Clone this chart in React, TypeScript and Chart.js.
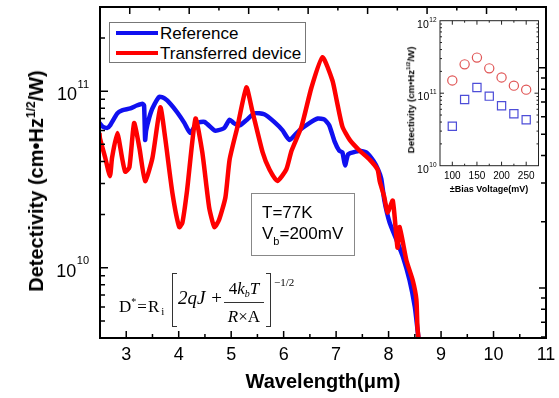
import React, { useEffect, useRef } from "react";
import { Chart, registerables } from "chart.js";

Chart.register(...registerables);

const SANS = "'Liberation Sans', Arial, Helvetica, sans-serif";
const SERIF = "'Liberation Serif', 'Times New Roman', serif";

// ---------- Main chart data ----------
const refWavelength = [
  2.49, 2.55, 2.64, 2.69, 2.83, 2.92, 3.08, 3.2, 3.31, 3.34, 3.36, 3.38, 3.44, 3.5, 3.63, 3.73,
  3.84, 3.97, 4.11, 4.22, 4.35, 4.49, 4.68, 4.74, 4.87, 4.97, 5.05, 5.16, 5.3, 5.44, 5.63, 5.82,
  5.98, 6.11, 6.3, 6.49, 6.65, 6.78, 6.87, 6.97, 7.06, 7.12, 7.17, 7.23, 7.32, 7.45, 7.58, 7.72,
  7.8, 7.86, 7.92, 8.02, 8.15, 8.27, 8.4, 8.5, 8.55, 8.59,
];
const refDetectivity = [
  6.6e10, 6.3e10, 6.2e10, 6.4e10, 7.5e10, 7.8e10, 8.0e10, 8.3e10, 8.5e10, 8.3e10, 5.3e10, 6.0e10, 7.1e10, 8.0e10, 9.3e10, 9.1e10,
  8.5e10, 7.6e10, 6.6e10, 5.8e10, 6.6e10, 6.7e10, 6.0e10, 6.0e10, 6.2e10, 6.9e10, 6.6e10, 6.4e10, 6.9e10, 7.5e10, 7.4e10, 6.7e10,
  6.0e10, 5.3e10, 6.0e10, 6.6e10, 7.0e10, 6.9e10, 6.4e10, 5.2e10, 4.6e10, 4.5e10, 3.8e10, 4.4e10, 4.5e10, 4.6e10, 4.5e10, 4.0e10,
  3.6e10, 3.2e10, 2.4e10, 1.8e10, 1.44e10, 1.16e10, 8.5e9, 6.0e9, 4.5e9, 3.5e9,
];

const trWavelength = [
  2.49, 2.5, 2.6, 2.69, 2.73, 2.83, 2.92, 2.98, 3.06, 3.15, 3.25, 3.36, 3.5, 3.65, 3.74, 3.88,
  4.01, 4.07, 4.16, 4.32, 4.45, 4.58, 4.68, 4.77, 4.89, 4.97, 5.12, 5.29, 5.4, 5.6, 5.73, 5.88,
  6.05, 6.15, 6.34, 6.53, 6.74, 6.93, 7.01, 7.12, 7.26, 7.45, 7.64, 7.79, 7.83, 7.92, 7.98, 8.08,
  8.17, 8.21, 8.34, 8.46, 8.53, 8.55, 8.59,
];
const trDetectivity = [
  5.8e10, 5.4e10, 4.2e10, 3.3e10, 4.2e10, 5.8e10, 4.2e10, 3.5e10, 3.7e10, 6.6e10, 4.8e10, 3.1e10, 4.2e10, 8.1e10, 5.5e10, 2.65e10,
  1.7e10, 1.8e10, 2.75e10, 7.0e10, 4.5e10, 2.2e10, 1.7e10, 1.87e10, 2.5e10, 4.1e10, 6.3e10, 1.05e11, 7.8e10, 4.5e10, 3.6e10, 3.1e10,
  3.6e10, 4.6e10, 6.3e10, 1.05e11, 1.56e11, 1.15e11, 8.9e10, 6.3e10, 5.3e10, 4.6e10, 4.1e10, 3.6e10, 3.1e10, 2.5e10, 2.05e10, 2.4e10,
  1.3e10, 1.7e10, 1.1e10, 8.5e9, 6.6e9, 4.6e9, 3.5e9,
];

const xTickValues = [3, 4, 5, 6, 7, 8, 9, 10, 11];
const yLabelExponents = [10, 11];

// ---------- Inset data ----------
const biasVoltage = [100, 125, 150, 175, 200, 225, 250];
const insetTransferred = [1.5e11, 2.5e11, 3.1e11, 2.2e11, 1.65e11, 1.27e11, 1.12e11];
const insetReference = [3.5e10, 8.2e10, 1.2e11, 9.1e10, 6.7e10, 5.2e10, 4.3e10];
const insetXTicks = [100, 150, 200, 250];
const insetYExponents = [10, 11, 12];

function logTicks(scale: any) {
  const out: { v: number; major: boolean }[] = [];
  const min = scale.min, max = scale.max;
  const n0 = Math.floor(Math.log10(min)), n1 = Math.ceil(Math.log10(max));
  for (let n = n0; n <= n1; n++) {
    for (let k = 1; k <= 9; k++) {
      const v = k * Math.pow(10, n);
      if (v > min * 1.002 && v < max * 0.998) out.push({ v, major: k === 1 });
    }
  }
  return out;
}

function drawPow(ctx: any, exp: number, right: number, py: number, big: number, small: number, dyBase: number, dySup: number) {
  ctx.font = `${big}px ${SANS}`;
  const w1 = ctx.measureText("10").width;
  ctx.font = `${small}px ${SANS}`;
  const s = String(exp);
  const w2 = ctx.measureText(s).width;
  const x0 = right - w2 - w1 - 0.5;
  ctx.textAlign = "left";
  ctx.textBaseline = "alphabetic";
  ctx.font = `${big}px ${SANS}`;
  ctx.fillText("10", x0, py + dyBase);
  ctx.font = `${small}px ${SANS}`;
  ctx.fillText(s, x0 + w1 + 0.5, py + dySup);
}

const mainFrame = {
  id: "mainFrame",
  afterDatasetsDraw(chart: any) {
    const { ctx, chartArea: a, scales } = chart;
    const { x, x2, y, y2 } = scales;
    ctx.save();
    ctx.strokeStyle = "#000";
    ctx.lineWidth = 1.5;
    ctx.beginPath();
    for (let v = 3; v <= 11.001; v += 0.5) {
      const px = x.getPixelForValue(v);
      const len = Math.abs(v - Math.round(v)) < 1e-6 ? 7 : 4;
      ctx.moveTo(px, a.bottom);
      ctx.lineTo(px, a.bottom - len);
    }
    for (let v = 3; v <= 10.001; v += 0.5) {
      const px = x2.getPixelForValue(v);
      const len = Math.abs(v - Math.round(v)) < 1e-6 ? 7 : 3.5;
      ctx.moveTo(px, a.top);
      ctx.lineTo(px, a.top + len);
    }
    logTicks(y).forEach(({ v, major }) => {
      const py = y.getPixelForValue(v);
      ctx.moveTo(a.left, py);
      ctx.lineTo(a.left + (major ? 8 : 5), py);
    });
    logTicks(y2).forEach(({ v, major }) => {
      const py = y2.getPixelForValue(v);
      ctx.moveTo(a.right, py);
      ctx.lineTo(a.right - (major ? 7 : 5), py);
    });
    ctx.stroke();
    ctx.lineWidth = 2;
    ctx.strokeRect(a.left, a.top, a.right - a.left, a.bottom - a.top);
    ctx.fillStyle = "#000";
    yLabelExponents.forEach((e) => {
      const py = y.getPixelForValue(Math.pow(10, e));
      drawPow(ctx, e, a.left - 11, py, 18, 11, 9, -3.5);
    });
    ctx.restore();
  },
};

const insetFrame = {
  id: "insetFrame",
  afterDatasetsDraw(chart: any) {
    const { ctx, chartArea: a, scales } = chart;
    const { x, y } = scales;
    ctx.save();
    ctx.strokeStyle = "#222";
    ctx.lineWidth = 1;
    ctx.beginPath();
    for (let v = 100; v <= 250; v += 25) {
      const px = x.getPixelForValue(v);
      const len = v % 50 === 0 ? 4 : 2;
      ctx.moveTo(px, a.bottom);
      ctx.lineTo(px, a.bottom - len);
      ctx.moveTo(px, a.top);
      ctx.lineTo(px, a.top + len);
    }
    logTicks(y).forEach(({ v, major }) => {
      const py = y.getPixelForValue(v);
      const len = major ? 4 : 2;
      ctx.moveTo(a.left, py);
      ctx.lineTo(a.left + len, py);
      ctx.moveTo(a.right, py);
      ctx.lineTo(a.right - len, py);
    });
    ctx.stroke();
    ctx.strokeRect(a.left, a.top, a.right - a.left, a.bottom - a.top);
    ctx.fillStyle = "#000";
    insetYExponents.forEach((e) => {
      const py = y.getPixelForValue(Math.pow(10, e));
      drawPow(ctx, e, a.left - 3.5, py, 10.5, 6.5, 7, 1);
    });
    ctx.restore();
  },
};

function Txt(props: { left: number; top: number; size: number; children: any; style?: any }) {
  return (
    <div
      style={{
        position: "absolute",
        left: props.left,
        top: props.top,
        fontSize: props.size,
        lineHeight: 1,
        whiteSpace: "nowrap",
        ...(props.style || {}),
      }}
    >
      {props.children}
    </div>
  );
}

export default function App() {
  const mainRef = useRef<HTMLCanvasElement>(null);
  const insetRef = useRef<HTMLCanvasElement>(null);

  useEffect(() => {
    document.body.style.margin = "0";
    Chart.defaults.font.family = SANS;
    Chart.defaults.color = "#000";

    const main = new Chart(mainRef.current as HTMLCanvasElement, {
      type: "line",
      data: {
        datasets: [
          {
            label: "Transferred device",
            data: trWavelength.map((w, i) => ({ x: w, y: trDetectivity[i] })),
            borderColor: "#ff0000",
            borderWidth: 4.5,
            pointRadius: 0,
            tension: 0.18,
            clip: 0,
            xAxisID: "x",
            yAxisID: "y",
          },
          {
            label: "Reference",
            data: refWavelength.map((w, i) => ({ x: w, y: refDetectivity[i] })),
            borderColor: "#1010f0",
            borderWidth: 4.5,
            pointRadius: 0,
            tension: 0.18,
            clip: 0,
            xAxisID: "x",
            yAxisID: "y",
          },
        ],
      },
      options: {
        responsive: false,
        animation: false,
        events: [],
        layout: { padding: { left: 0, right: 13, top: 7, bottom: 0 } },
        plugins: { legend: { display: false }, tooltip: { enabled: false } },
        scales: {
          x: {
            type: "linear",
            position: "bottom",
            min: 2.5,
            max: 11,
            afterBuildTicks: (s: any) => {
              s.ticks = xTickValues.map((v) => ({ value: v }));
            },
            afterFit: (s: any) => {
              s.height = 60;
            },
            grid: { display: false },
            border: { display: false },
            ticks: { font: { size: 18 }, padding: -2, color: "#000", maxRotation: 0 },
            title: {
              display: true,
              text: "Wavelength(μm)",
              font: { size: 20, weight: "bold" },
              color: "#000",
              padding: { top: 0, bottom: 4 },
            },
          },
          x2: {
            type: "linear",
            axis: "x",
            position: "top",
            display: false,
            min: 2.5,
            max: 10,
          },
          y: {
            type: "logarithmic",
            position: "left",
            min: 4e9,
            max: 3e11,
            afterFit: (s: any) => {
              s.width = 100;
            },
            grid: { display: false },
            border: { display: false },
            ticks: { display: false },
          },
          y2: {
            type: "logarithmic",
            axis: "y",
            position: "right",
            display: false,
            min: 5.93e9,
            max: 1.89e11,
          },
        },
      } as any,
      plugins: [mainFrame],
    });

    const inset = new Chart(insetRef.current as HTMLCanvasElement, {
      type: "scatter",
      data: {
        datasets: [
          {
            label: "Transferred device",
            data: biasVoltage.map((v, i) => ({ x: v, y: insetTransferred[i] })),
            pointStyle: "circle",
            pointRadius: 4.6,
            borderColor: "#e05555",
            backgroundColor: "rgba(0,0,0,0)",
            borderWidth: 1.2,
            clip: false,
          },
          {
            label: "Reference",
            data: biasVoltage.map((v, i) => ({ x: v, y: insetReference[i] })),
            pointStyle: "rect",
            pointRadius: 5.8,
            borderColor: "#4d4dd8",
            backgroundColor: "rgba(0,0,0,0)",
            borderWidth: 1.2,
            clip: false,
          },
        ],
      },
      options: {
        responsive: false,
        animation: false,
        events: [],
        layout: { padding: { left: 0, right: 11.5, top: 20.7, bottom: 0 } },
        plugins: { legend: { display: false }, tooltip: { enabled: false } },
        scales: {
          x: {
            type: "linear",
            min: 75,
            max: 275,
            afterBuildTicks: (s: any) => {
              s.ticks = insetXTicks.map((v) => ({ value: v }));
            },
            afterFit: (s: any) => {
              s.height = 34.3;
            },
            grid: { display: false },
            border: { display: false },
            ticks: { font: { size: 10 }, padding: -3.5, color: "#000", maxRotation: 0 },
          },
          y: {
            type: "logarithmic",
            min: 1e10,
            max: 1e12,
            afterFit: (s: any) => {
              s.width = 40;
            },
            grid: { display: false },
            border: { display: false },
            ticks: { display: false },
          },
        },
      } as any,
      plugins: [insetFrame],
    });

    return () => {
      main.destroy();
      inset.destroy();
    };
  }, []);

  return (
    <div
      style={{
        position: "absolute",
        left: 0,
        top: 0,
        width: 559,
        height: 398,
        background: "#fff",
        overflow: "hidden",
        fontFamily: SANS,
        color: "#000",
      }}
    >
      <canvas
        ref={mainRef}
        width={559}
        height={398}
        style={{ position: "absolute", left: 0, top: 0, width: 559, height: 398 }}
      />
      <canvas
        ref={insetRef}
        width={150}
        height={200}
        style={{ position: "absolute", left: 400, top: 0, width: 150, height: 200 }}
      />

      {/* Main y-axis title */}
      <div
        style={{
          position: "absolute",
          left: 36,
          top: 181,
          transform: "translate(-50%, -50%) rotate(-90deg)",
          whiteSpace: "nowrap",
          fontWeight: "bold",
          fontSize: 20,
          lineHeight: 1,
        }}
      >
        Detectivity (cm•Hz<span style={{ fontSize: 12, position: "relative", top: -8 }}>1/2</span>/W)
      </div>

      {/* Inset y-axis title */}
      <div
        style={{
          position: "absolute",
          left: 411,
          top: 100,
          transform: "translate(-50%, -50%) rotate(-90deg)",
          whiteSpace: "nowrap",
          fontWeight: "bold",
          fontSize: 9.6,
          lineHeight: 1,
        }}
      >
        Detectivity (cm•Hz<span style={{ fontSize: 6, position: "relative", top: -4 }}>1/2</span>/W)
      </div>

      {/* Inset x-axis title */}
      <div
        style={{
          position: "absolute",
          left: 489,
          top: 188.5,
          transform: "translate(-50%, -50%)",
          whiteSpace: "nowrap",
          fontWeight: "bold",
          fontSize: 9,
          lineHeight: 1,
        }}
      >
        ±Bias Voltage(mV)
      </div>

      {/* Legend */}
      <div
        style={{
          position: "absolute",
          left: 109,
          top: 22,
          width: 197,
          height: 41,
          border: "1px solid #777",
          boxSizing: "border-box",
          background: "#fff",
        }}
      />
      <div style={{ position: "absolute", left: 116, top: 31, width: 42, height: 4, background: "#1010f0" }} />
      <div style={{ position: "absolute", left: 116, top: 51, width: 42, height: 4, background: "#ff0000" }} />
      <Txt left={160} top={33 - 8.3} size={17}>Reference</Txt>
      <Txt left={160} top={53 - 8.3} size={17}>Transferred device</Txt>

      {/* Annotation box */}
      <div
        style={{
          position: "absolute",
          left: 251,
          top: 193,
          width: 104,
          height: 63,
          border: "1px solid #888",
          boxSizing: "border-box",
        }}
      />
      <Txt left={262} top={212 - 8.3} size={17}>T=77K</Txt>
      <Txt left={262} top={233 - 8.3} size={17}>
        V<span style={{ fontSize: 11, position: "relative", top: 6 }}>b</span>=200mV
      </Txt>

      {/* Formula */}
      <Txt left={119} top={312 - 14.2} size={17} style={{ fontFamily: SERIF }}>
        D<span style={{ fontSize: 10, position: "relative", top: -7 }}>*</span>
        <span style={{ margin: "0 1px" }}>=</span>R
        <span style={{ fontSize: 11, position: "relative", top: 3, marginLeft: 2 }}>i</span>
      </Txt>
      <div
        style={{
          position: "absolute",
          left: 172,
          top: 273,
          width: 5,
          height: 54,
          borderLeft: "1.5px solid #333",
          borderTop: "1.5px solid #333",
          borderBottom: "1.5px solid #333",
          boxSizing: "border-box",
        }}
      />
      <div
        style={{
          position: "absolute",
          left: 266,
          top: 273,
          width: 5,
          height: 54,
          borderRight: "1.5px solid #333",
          borderTop: "1.5px solid #333",
          borderBottom: "1.5px solid #333",
          boxSizing: "border-box",
        }}
      />
      <Txt left={178} top={297 - 9.5} size={19} style={{ fontFamily: SERIF }}>
        <i>2qJ</i> <span style={{ marginLeft: 1 }}>+</span>
      </Txt>
      <Txt left={222} top={288 - 8.5} size={17} style={{ fontFamily: SERIF, width: 44, textAlign: "center" }}>
        4<i>k</i>
        <i style={{ fontSize: 10, position: "relative", top: 3 }}>b</i>
        <i>T</i>
      </Txt>
      <div style={{ position: "absolute", left: 224, top: 302, width: 40, height: 1, background: "#333" }} />
      <Txt left={222} top={316 - 8.5} size={17} style={{ fontFamily: SERIF, width: 44, textAlign: "center" }}>
        <i>R</i>×A
      </Txt>
      <Txt left={274} top={282 - 5.5} size={11} style={{ fontFamily: SERIF }}>
        −1/2
      </Txt>
    </div>
  );
}
